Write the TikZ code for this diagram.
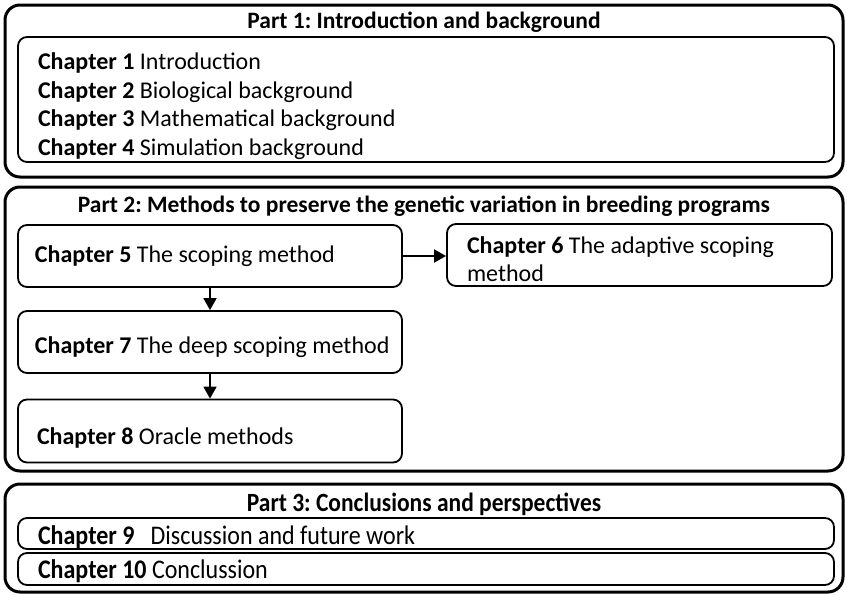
\documentclass[tikz,border=0pt]{standalone}
\usepackage{fontspec}
\setmainfont{Carlito}
\usepackage{graphicx}
\usetikzlibrary{arrows.meta,positioning}

\newcommand{\tallline}[1]{\scalebox{1}[1.12]{#1}}
\newcommand{\lift}[1]{\rule{0pt}{#1}}
\frenchspacing

\begin{document}
\begin{tikzpicture}[
  x=1pt, y=-1pt,
  font=\fontsize{24}{28.5}\selectfont,
  partbox/.style={draw, line width=3pt, rounded corners=15pt},
  chapbox/.style={draw, line width=1.8pt, rounded corners=9pt,
              align=flush left, inner ysep=0pt},
  parttitle/.style={font=\fontsize{23.5}{28}\selectfont\bfseries, inner sep=0pt},
  flow/.style={-{Triangle[length=12pt,width=13pt]}, line width=1.8pt}
]
\useasboundingbox (0,0) rectangle (847,595);

% Part 1
\node[partbox, minimum width=838pt, minimum height=172pt] (part1) at (424,91) {};
\node[parttitle] (title1) at (424,22) {Part 1: Introduction and background};
\node[chapbox, text width=776pt, inner xsep=20pt, minimum height=125pt] (intro) at (426,99.5)
  {\lift{30pt}\textbf{Chapter 1} Introduction\\
   \textbf{Chapter 2} Biological background\\
   \textbf{Chapter 3} Mathematical background\\
   \textbf{Chapter 4} Simulation background};

% Part 2
\node[partbox, minimum width=838pt, minimum height=284pt] (part2) at (424,329) {};
\node[parttitle] (title2) at (424,206) {Part 2: Methods to preserve the genetic variation in breeding programs};
\node[chapbox, text width=360pt, inner xsep=12pt, minimum height=62pt] (ch5) at (210,256)
  {\hspace*{5pt}\textbf{Chapter 5} The scoping method};
\node[chapbox, text width=345pt, inner xsep=20pt, minimum height=62pt] (ch6) at (639.5,255)
  {\lift{25pt}\textbf{Chapter 6} The adaptive scoping\\method};
\node[chapbox, text width=360pt, inner xsep=12pt, minimum height=62pt] (ch7) at (210,342)
  {\lift{28pt}\hspace*{5pt}\textbf{Chapter 7} The deep scoping method};
\node[chapbox, text width=360pt, inner xsep=12pt, minimum height=63pt] (ch8) at (210,431)
  {\lift{30pt}\hspace*{7pt}\textbf{Chapter 8} Oracle methods};

\draw[flow] (ch5.east) -- (ch5.east -| ch6.west);
\draw[flow] (ch5.south) -- (ch7.north);
\draw[flow] (ch7.south) -- (ch8.north);

% Part 3
\node[partbox, minimum width=838pt, minimum height=108pt] (part3) at (424,538) {};
\node[parttitle] (title3) at (424,504) {\tallline{Part 3: Conclusions and perspectives}};
\node[chapbox, text width=776pt, inner xsep=20pt, minimum height=31pt] (ch9) at (426,533.5)
  {\lift{26pt}\tallline{\textbf{Chapter 9}\ \ \ Discussion and future work}};
\node[chapbox, text width=776pt, inner xsep=20pt, minimum height=32pt] (ch10) at (426,569)
  {\lift{24pt}\tallline{\textbf{Chapter 10} Conclussion}};
\end{tikzpicture}
\end{document}
